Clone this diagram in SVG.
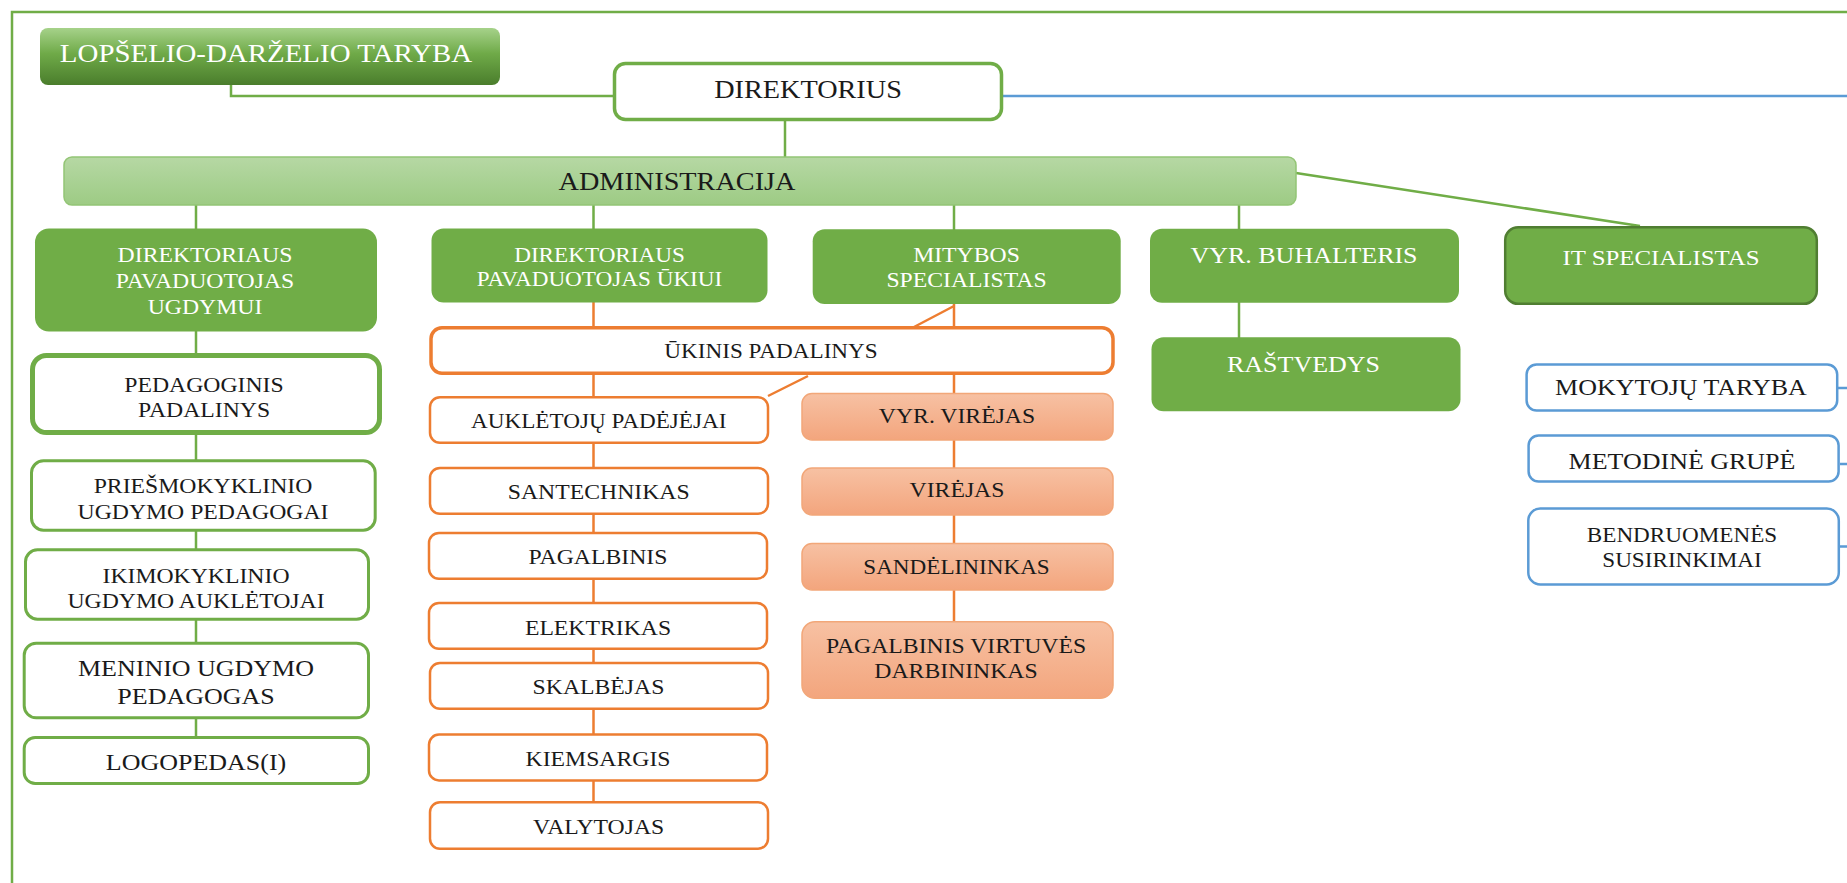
<svg xmlns="http://www.w3.org/2000/svg" width="1847" height="883" viewBox="0 0 1847 883">
<defs>
<linearGradient id="gLop" x1="0" y1="0" x2="0" y2="1">
<stop offset="0" stop-color="#a6d28a"/><stop offset="0.45" stop-color="#6faa48"/><stop offset="1" stop-color="#4a7d2c"/>
</linearGradient>
<linearGradient id="gAdm" x1="0" y1="0" x2="0" y2="1">
<stop offset="0" stop-color="#b6d8a4"/><stop offset="1" stop-color="#9dcb84"/>
</linearGradient>
<linearGradient id="gOr" x1="0" y1="0" x2="0" y2="1">
<stop offset="0" stop-color="#f7c1a3"/><stop offset="1" stop-color="#f3a57d"/>
</linearGradient>
<style>
.t{font-family:"Liberation Serif","Times New Roman",serif;text-anchor:middle;fill:#1a1a1a}
.w{fill:#ffffff}
.s25{font-size:25px}.s23{font-size:23px}.s22{font-size:22px}.s21{font-size:21px}.s20{font-size:20.5px}
.gf{fill:#70ad47}
.gb{fill:#ffffff;stroke:#70ad47;stroke-width:3}
.ob{fill:#ffffff;stroke:#ed7d31;stroke-width:2.5}
.of{fill:url(#gOr);stroke:#f2a779;stroke-width:1.5}
.bb{fill:#ffffff;stroke:#5b9bd5;stroke-width:2.5}
.lg{fill:none;stroke:#70ad47;stroke-width:2.5}
.lo{fill:none;stroke:#ed7d31;stroke-width:2.5}
.lb{fill:none;stroke:#5b9bd5;stroke-width:2.5}
</style>
</defs>
<rect width="1847" height="883" fill="#ffffff"/>
<path d="M12 883 V12 H1847" fill="none" stroke="#70ad47" stroke-width="2.5"/>

<g id="connectors">
<path class="lg" d="M231 85 V96 H613"/>
<path class="lb" d="M1003 96 H1847"/>
<path class="lg" d="M785 121 V157"/>
<path class="lg" d="M196 205 V229 M593.5 205 V229 M954 205 V230 M1239 205 V229"/>
<path class="lg" d="M1296 173 L1640 226"/>
<path class="lg" d="M196 331 V354 M196 434 V460 M196 531 V549 M196 620 V643 M196 719 V737"/>
<path class="lg" d="M1239 302 V338"/>
<path class="lo" d="M593.5 302 V328 M954 304 V328 M954 306 L914 327"/>
<path class="lo" d="M593.5 373 V397 M808 376 L768 396 M954 373 V394"/>
<path class="lo" d="M593.5 443 V468 M593.5 514 V533 M593.5 579 V603 M593.5 649 V663 M593.5 709 V735 M593.5 780 V802"/>
<path class="lo" d="M954 440 V468 M954 515 V544 M954 590 V622"/>
<path class="lb" d="M1838 388 H1847 M1840 464 H1847 M1840 546.5 H1847"/>
</g>

<g id="lopselio-darzelio-taryba">
<rect x="40" y="28" width="460" height="57" rx="8" fill="url(#gLop)"/>
<text class="t w" style="font-size:25.6px" transform="translate(266 0) scale(1.13 1)" x="0" y="61.7">LOPŠELIO-DARŽELIO TARYBA</text>
</g>
<g id="direktorius">
<rect x="614.5" y="63.5" width="387" height="56" rx="11" fill="#ffffff" stroke="#70ad47" stroke-width="3.5"/>
<text class="t s25" transform="translate(808 0) scale(1.13 1)" x="0" y="98.5">DIREKTORIUS</text>
</g>
<g id="administracija">
<rect x="64" y="157" width="1232" height="48" rx="8" fill="url(#gAdm)" stroke="#93c575" stroke-width="1.5"/>
<text class="t s25" transform="translate(677 0) scale(1.13 1)" x="0" y="190">ADMINISTRACIJA</text>
</g>
<g id="pavaduotojas-ugdymui">
<rect class="gf" x="35" y="228.5" width="342" height="103" rx="14"/>
<text class="t w s21" transform="translate(205 0) scale(1.13 1)"><tspan x="0" y="261.7">DIREKTORIAUS</tspan><tspan x="0" y="287.7">PAVADUOTOJAS</tspan><tspan x="0" y="314.3">UGDYMUI</tspan></text>
</g>
<g id="pavaduotojas-ukiui">
<rect class="gf" x="431.5" y="228.5" width="336" height="74" rx="12"/>
<text class="t w s20" transform="translate(599.5 0) scale(1.13 1)"><tspan x="0" y="261.7">DIREKTORIAUS</tspan><tspan x="0" y="286">PAVADUOTOJAS ŪKIUI</tspan></text>
</g>
<g id="mitybos-specialistas">
<rect class="gf" x="812.7" y="229.3" width="308" height="74.7" rx="12"/>
<text class="t w s21" transform="translate(966.5 0) scale(1.13 1)"><tspan x="0" y="261.7">MITYBOS</tspan><tspan x="0" y="286.7">SPECIALISTAS</tspan></text>
</g>
<g id="vyr-buhalteris">
<rect class="gf" x="1150" y="228.7" width="309" height="74" rx="12"/>
<text class="t w s23" transform="translate(1304 0) scale(1.13 1)" x="0" y="263">VYR. BUHALTERIS</text>
</g>
<g id="it-specialistas">
<rect x="1505.2" y="227.2" width="311.6" height="76.6" rx="13" fill="#70ad47" stroke="#507e32" stroke-width="2.5"/>
<text class="t w s22" transform="translate(1661 0) scale(1.13 1)" x="0" y="265">IT SPECIALISTAS</text>
</g>
<g id="rastvedys">
<rect class="gf" x="1151.5" y="337.3" width="309" height="74" rx="12"/>
<text class="t w s23" transform="translate(1303.5 0) scale(1.13 1)" x="0" y="371.7">RAŠTVEDYS</text>
</g>

<g id="pedagoginis-padalinys">
<rect x="32.5" y="355.5" width="347" height="77" rx="14" fill="#ffffff" stroke="#70ad47" stroke-width="5"/>
<text class="t s21" transform="translate(204 0) scale(1.13 1)"><tspan x="0" y="391.7">PEDAGOGINIS</tspan><tspan x="0" y="417.3">PADALINYS</tspan></text>
</g>
<g id="priesmokyklinio">
<rect class="gb" x="31.5" y="460.8" width="343.7" height="69.4" rx="12"/>
<text class="t s21" transform="translate(203 0) scale(1.13 1)"><tspan x="0" y="493.3">PRIEŠMOKYKLINIO</tspan><tspan x="0" y="519">UGDYMO PEDAGOGAI</tspan></text>
</g>
<g id="ikimokyklinio">
<rect class="gb" x="25.5" y="549.8" width="343" height="69.4" rx="12"/>
<text class="t s21" transform="translate(196 0) scale(1.13 1)"><tspan x="0" y="583.3">IKIMOKYKLINIO</tspan><tspan x="0" y="607.7">UGDYMO AUKLĖTOJAI</tspan></text>
</g>
<g id="meninio">
<rect class="gb" x="24.2" y="643.2" width="344.3" height="74.6" rx="12"/>
<text class="t s23" transform="translate(196 0) scale(1.13 1)"><tspan x="0" y="676">MENINIO UGDYMO</tspan><tspan x="0" y="704.3">PEDAGOGAS</tspan></text>
</g>
<g id="logopedas">
<rect class="gb" x="24.2" y="737.5" width="344.3" height="46" rx="11"/>
<text class="t s23" transform="translate(196 0) scale(1.13 1)" x="0" y="770">LOGOPEDAS(I)</text>
</g>

<g id="ukinis-padalinys">
<rect x="431" y="327.7" width="682" height="45.6" rx="11" fill="#ffffff" stroke="#ed7d31" stroke-width="3.5"/>
<text class="t s20" transform="translate(771 0) scale(1.13 1)" x="0" y="358.3">ŪKINIS PADALINYS</text>
</g>
<g id="aukletoju-padejejai">
<rect class="ob" x="430" y="397.2" width="338" height="45.6" rx="10"/>
<text class="t s20" transform="translate(598.7 0) scale(1.13 1)" x="0" y="428.3">AUKLĖTOJŲ PADĖJĖJAI</text>
</g>
<g id="santechnikas">
<rect class="ob" x="430" y="468" width="338" height="45.8" rx="10"/>
<text class="t s21" transform="translate(598.7 0) scale(1.13 1)" x="0" y="499.3">SANTECHNIKAS</text>
</g>
<g id="pagalbinis">
<rect class="ob" x="429" y="533" width="338" height="45.8" rx="10"/>
<text class="t s21" transform="translate(598 0) scale(1.13 1)" x="0" y="564">PAGALBINIS</text>
</g>
<g id="elektrikas">
<rect class="ob" x="429" y="603" width="338" height="45.8" rx="10"/>
<text class="t s21" transform="translate(598 0) scale(1.13 1)" x="0" y="635">ELEKTRIKAS</text>
</g>
<g id="skalbejas">
<rect class="ob" x="430" y="663" width="338" height="45.8" rx="10"/>
<text class="t s21" transform="translate(598.5 0) scale(1.13 1)" x="0" y="694">SKALBĖJAS</text>
</g>
<g id="kiemsargis">
<rect class="ob" x="429" y="734.6" width="338" height="45.8" rx="10"/>
<text class="t s21" transform="translate(598 0) scale(1.13 1)" x="0" y="766">KIEMSARGIS</text>
</g>
<g id="valytojas">
<rect class="ob" x="430" y="802.3" width="338" height="46.4" rx="10"/>
<text class="t s21" transform="translate(598.7 0) scale(1.13 1)" x="0" y="834">VALYTOJAS</text>
</g>

<g id="vyr-virejas">
<rect class="of" x="802" y="393.5" width="311" height="46.5" rx="10"/>
<text class="t s21" transform="translate(957 0) scale(1.13 1)" x="0" y="422.7">VYR. VIRĖJAS</text>
</g>
<g id="virejas">
<rect class="of" x="802" y="468" width="311" height="47" rx="10"/>
<text class="t s21" transform="translate(957 0) scale(1.13 1)" x="0" y="497.3">VIRĖJAS</text>
</g>
<g id="sandelininkas">
<rect class="of" x="802" y="543.5" width="311" height="46.5" rx="10"/>
<text class="t s20" transform="translate(956.5 0) scale(1.13 1)" x="0" y="574">SANDĖLININKAS</text>
</g>
<g id="pagalbinis-virtuves-darbininkas">
<rect class="of" x="802" y="621.8" width="311" height="76.5" rx="13"/>
<text class="t s21" transform="translate(956 0) scale(1.13 1)"><tspan x="0" y="653.3">PAGALBINIS VIRTUVĖS</tspan><tspan x="0" y="677.7">DARBININKAS</tspan></text>
</g>

<g id="mokytoju-taryba">
<rect class="bb" x="1526.6" y="364.5" width="310.6" height="46" rx="10"/>
<text class="t s23" transform="translate(1681 0) scale(1.13 1)" x="0" y="395">MOKYTOJŲ TARYBA</text>
</g>
<g id="metodine-grupe">
<rect class="bb" x="1528.6" y="435.5" width="310" height="46" rx="10"/>
<text class="t s23" transform="translate(1682 0) scale(1.13 1)" x="0" y="469.3">METODINĖ GRUPĖ</text>
</g>
<g id="bendruomenes-susirinkimai">
<rect class="bb" x="1528.3" y="508.5" width="310.5" height="76" rx="12"/>
<text class="t s20" transform="translate(1682 0) scale(1.13 1)"><tspan x="0" y="541.7">BENDRUOMENĖS</tspan><tspan x="0" y="566.7">SUSIRINKIMAI</tspan></text>
</g>
</svg>
